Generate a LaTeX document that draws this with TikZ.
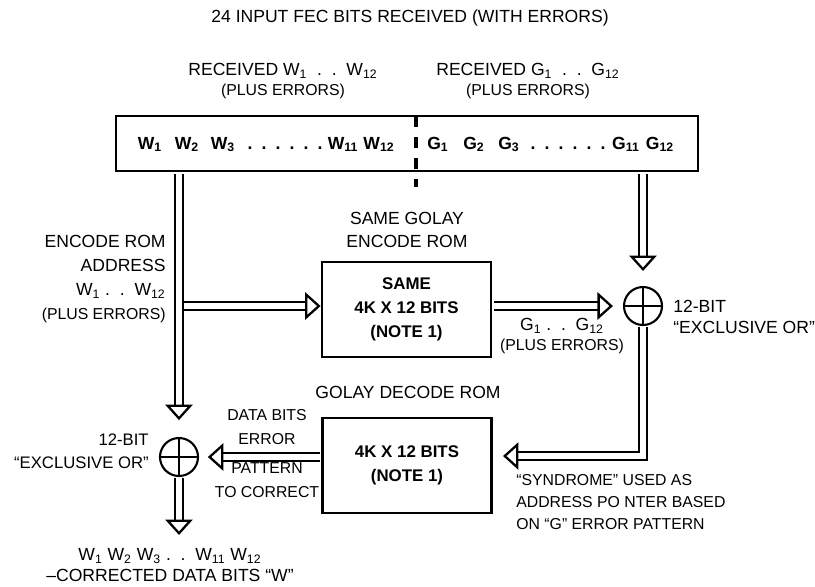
\documentclass[tikz,border=0pt]{standalone}
\usepackage{fontspec}
\setmainfont{Liberation Sans}
\usetikzlibrary{arrows.meta}
\newcommand{\bitsub}[1]{\textsubscript{#1}}

\begin{document}
\begin{tikzpicture}[
    x=0.02cm, y=-0.02cm,
    % Estilos de texto
    lbl/.style={font=\fontsize{10}{13.5}\selectfont, inner sep=0pt, align=center},
    lbltight/.style={lbl, font=\fontsize{10}{11.5}\selectfont},
    smalllbl/.style={lbl, font=\fontsize{9}{13.5}\selectfont},
    bitlbl/.style={font=\bfseries\fontsize{10}{12}\selectfont, inner sep=0pt, anchor=base},
    % Cajas de ROM
    rombox/.style={draw, line width=1.6pt, minimum width=3.38cm, minimum height=1.9cm, align=center,
        font=\bfseries\fontsize{9.6}{13.8}\selectfont},
    % Compuerta XOR
    xorgate/.style={circle, draw, line width=1.2pt, minimum size=0.76cm, inner sep=0pt,
        path picture={\draw[line width=1.2pt] (path picture bounding box.north) -- (path picture bounding box.south)
                                              (path picture bounding box.west) -- (path picture bounding box.east);}},
    % Bus de 12 bits (flecha hueca)
    bus/.style={double, double distance=3.6pt, line width=1.3pt, line join=miter,
        -{Triangle[length=8.8pt, width=15.5pt, line width=1.3pt, fill=white]}},
    divider/.style={line width=2.3pt, dash pattern=on 6.2pt off 5.8pt}
]

    \useasboundingbox (0,0) rectangle (815,586);

    % Titulo y rotulos superiores
    \node[lbl] (title) at (410,18) {24 INPUT FEC BITS RECEIVED (WITH ERRORS)};
    \node[lbltight] (rxWlbl) at (283,81) {RECEIVED W\bitsub{1}\ \ .\ \ .\ \ W\bitsub{12}\\{\fontsize{9}{11}\selectfont(PLUS ERRORS)}};
    \node[lbltight] (rxGlbl) at (528,81) {RECEIVED G\bitsub{1}\ \ .\ \ .\ \ G\bitsub{12}\\{\fontsize{9}{11}\selectfont(PLUS ERRORS)}};

    % Palabra recibida de 24 bits
    \node[draw, line width=1.6pt, minimum width=11.64cm, minimum height=1.1cm] (rx) at (407,143.5) {};
    \foreach \x/\t in {150/1, 187/2, 223/3, 343/11, 379/12}
        \node[bitlbl] at (\x,149) {W\bitsub{\t}};
    \foreach \x/\t in {438/1, 474/2, 509/3, 626/11, 660/12}
        \node[bitlbl] at (\x,149) {G\bitsub{\t}};
    \foreach \x in {250,264,...,320}
        \node[bitlbl] at (\x,149) {.};
    \foreach \x in {533,547,...,603}
        \node[bitlbl] at (\x,149) {.};
    \draw[divider] (416,116) -- (416,187);

    % ROM de codificacion
    \node[lbl] (encLbl) at (407,230) {SAME GOLAY\\ENCODE ROM};
    \node[lbl, align=right, anchor=east] (addrLbl) at (166,279)
        {ENCODE ROM\\ADDRESS\\W\bitsub{1}\ .\ \ .\ \ W\bitsub{12}\\{\fontsize{9}{11}\selectfont(PLUS ERRORS)}};
    \node[rombox] (enc) at (406.5,309.5) {SAME\\4K X 12 BITS\\(NOTE 1)};
    \node[lbltight] (gLbl) at (562,336) {G\bitsub{1}\ .\ \ .\ \ G\bitsub{12}\\{\fontsize{9}{11}\selectfont(PLUS ERRORS)}};

    % XOR de la paridad
    \node[xorgate] (xorG) at (643,306) {};
    \node[lbltight, align=left, anchor=west] (xorGlbl) at (673,317) {12-BIT\\“EXCLUSIVE OR”};

    % ROM de decodificacion
    \node[lbl] (decLbl) at (408,392) {GOLAY DECODE ROM};
    \node[rombox] (dec) at (407,465.5) {4K X 12 BITS\\(NOTE 1)};
    \node[lbl, align=left, anchor=west, font=\fontsize{9}{12.5}\selectfont] (synLbl) at (516,502)
        {“SYNDROME” USED AS\\ADDRESS PO NTER BASED\\ON “G” ERROR PATTERN};

    % XOR de los datos
    \node[xorgate] (xorW) at (179,457) {};
    \node[lbl, align=right, anchor=east, font=\fontsize{9.5}{13}\selectfont] (xorWlbl) at (149,451) {12-BIT\\“EXCLUSIVE OR”};
    \node[smalllbl] (errLbl) at (267,427) {DATA BITS\\ERROR};
    \node[smalllbl] (patLbl) at (267,480) {PATTERN\\TO CORRECT};
    \node[lbltight] (outLbl) at (170,565)
        {W\bitsub{1} W\bitsub{2} W\bitsub{3}\ .\ \ .\ \ W\bitsub{11} W\bitsub{12}\\–CORRECTED DATA BITS “W”};

    % Puntos auxiliares
    \coordinate (tap) at (xorW |- xorG);
    \coordinate (synEnd) at (503,456);
    \coordinate (outEnd) at (179,535);

    % Buses
    \draw[bus, shorten <=0.8pt, shorten >=9.6pt] (rx.south -| xorW) -- (xorW);
    \draw[bus, shorten <=0.8pt, shorten >=8.5pt] (rx.south -| xorG) -- (xorG);
    \draw[bus] ([xshift=3pt]tap) -- (enc.west |- tap);
    \draw[bus, shorten <=0.8pt, shorten >=5.7pt] (enc.east |- xorG) -- (xorG);
    \draw[bus, shorten <=0.6pt] (xorG.south) |- (synEnd);
    \draw[bus, shorten <=0.8pt, shorten >=5pt] (dec.west |- xorW) -- (xorW);
    \draw[bus, shorten <=0.6pt] (xorW.south) -- (outEnd);

\end{tikzpicture}
\end{document}
